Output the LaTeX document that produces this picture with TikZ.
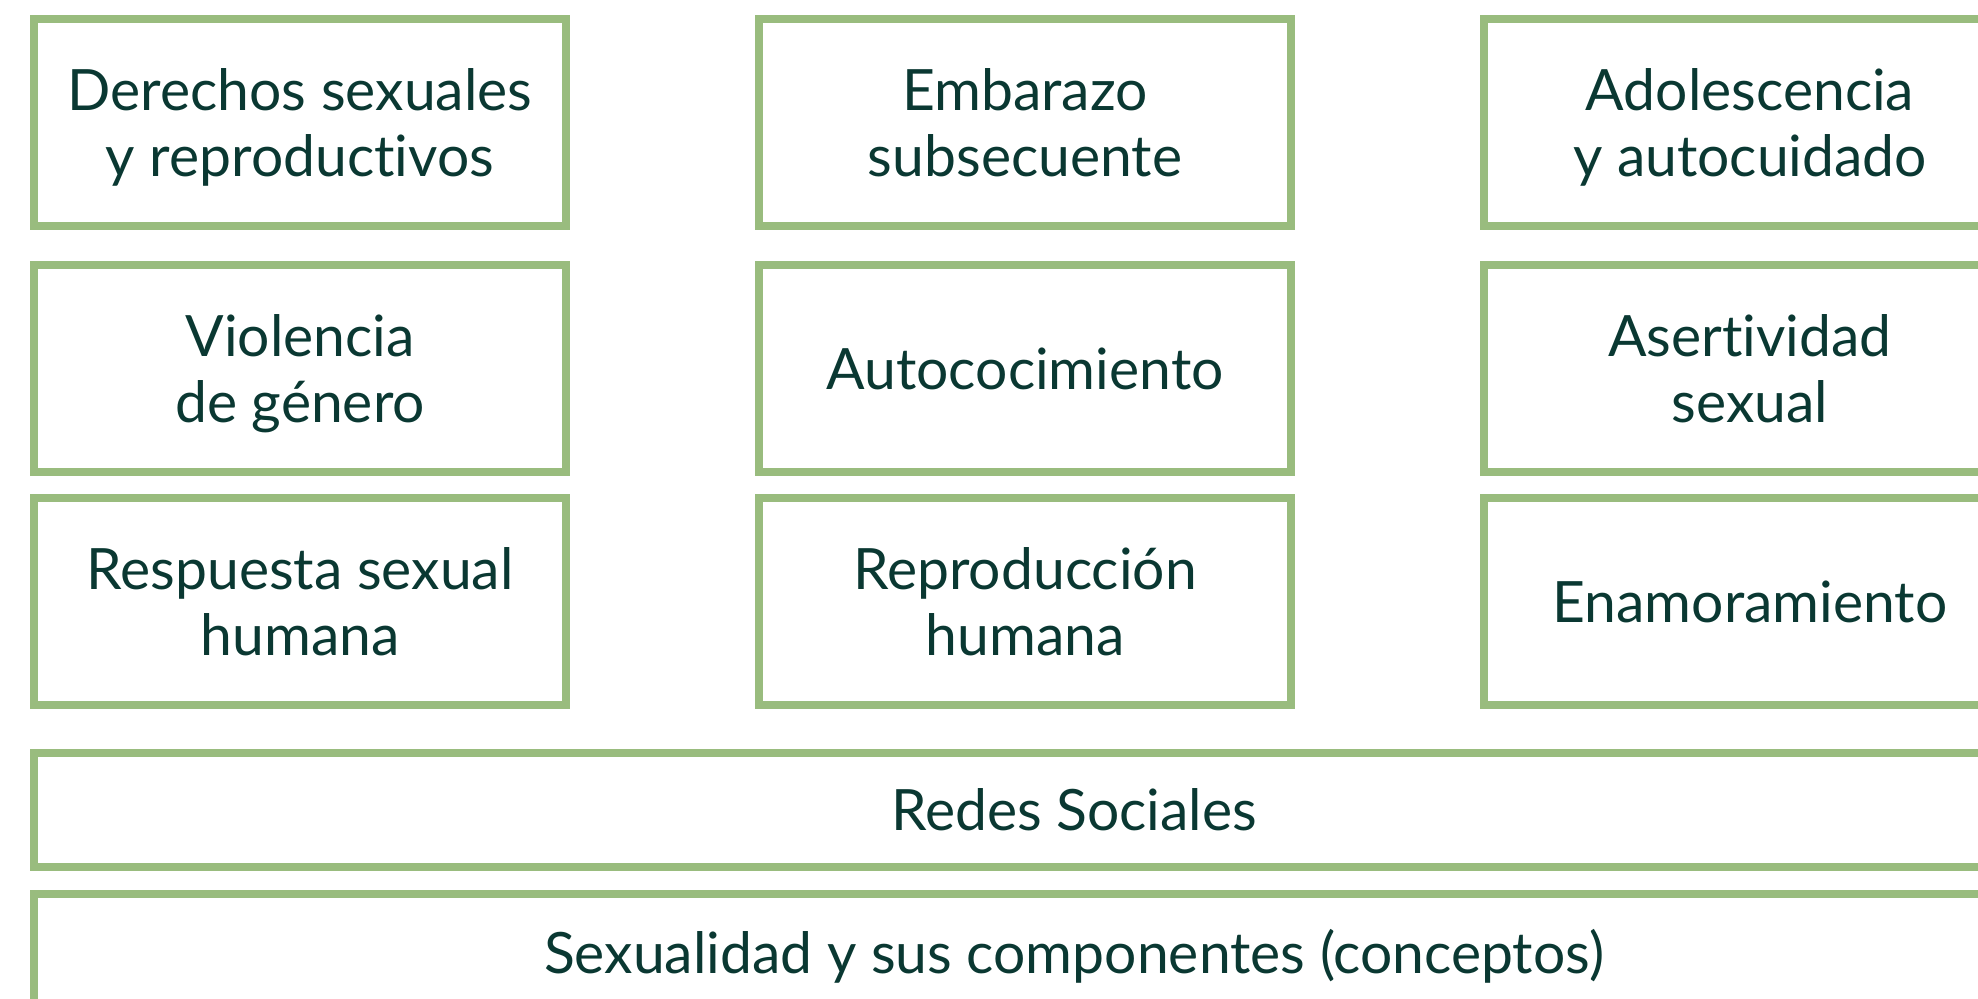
\documentclass[tikz,border=0pt]{standalone}
\usepackage{fontspec}
\setmainfont{Lato}[Ligatures=NoCommon]
\definecolor{boxgreen}{RGB}{153,188,126}
\definecolor{textteal}{RGB}{10,56,50}
\tikzset{
  topicbox/.style={draw=boxgreen, line width=4pt, rectangle, inner sep=0pt,
    minimum width=266pt, minimum height=103.5pt, align=center, text=textteal,
    text depth=0pt, font=\fontsize{28.5}{33}\selectfont},
  widebox/.style={topicbox, minimum width=1040pt, minimum height=57pt}
}
\begin{document}
\begin{tikzpicture}[x=0.5pt,y=0.5pt,yscale=-1,xscale=1]
%set diagram size 1978 x 999
\clip (0,0) rectangle (1978,999);

%Shape: Rectangle, row 1
\node [topicbox] (derechos) at (300,122.5) {Derechos sexuales\\y reproductivos};
\node [topicbox] (embarazo) at (1025,122.5) {Embarazo\\subsecuente};
\node [topicbox] (adolescencia) at (1750,122.5) {Adolescencia\\y autocuidado};

%Shape: Rectangle, row 2
\node [topicbox] (violencia) at (300,368.5) {Violencia\\de género};
\node [topicbox] (autoconocimiento) at (1025,368.5) {Autococimiento};
\node [topicbox] (asertividad) at (1750,368.5) {Asertividad\\sexual};

%Shape: Rectangle, row 3
\node [topicbox] (respuesta) at (300,601.5) {Respuesta sexual\\humana};
\node [topicbox] (reproduccion) at (1025,601.5) {Reproducción\\humana};
\node [topicbox] (enamoramiento) at (1750,601.5) {Enamoramiento};

%Shape: Rectangle, wide rows
\node [widebox] (redes) at (1074,810) {Redes Sociales};
\node [widebox] (sexualidad) at (1074,951) {Sexualidad y sus componentes (conceptos)};

\end{tikzpicture}
\end{document}
